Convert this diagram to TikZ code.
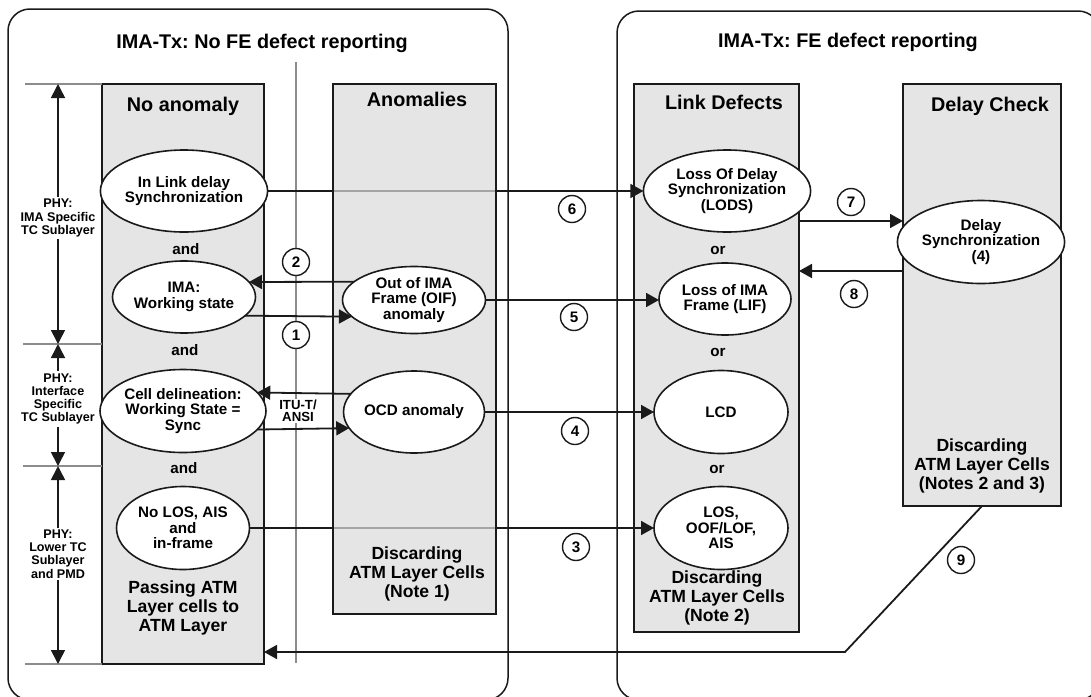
\documentclass[tikz,border=0pt]{standalone}
\usepackage{fontspec}
\setmainfont{Liberation Sans}
\frenchspacing
\usetikzlibrary{shapes.geometric,arrows.meta,calc}
\pgfdeclarelayer{bg}
\pgfdeclarelayer{thru}
\pgfdeclarelayer{anbox}
\pgfsetlayers{bg,thru,anbox,main}
\definecolor{boxgray}{HTML}{E5E5E5}
\definecolor{anfill}{HTML}{DBDBDB}
\definecolor{ink}{HTML}{1A1A1A}
\definecolor{thin}{HTML}{8C8C8C}
\newcommand\ftitle{\fontsize{19.8}{21}\selectfont\bfseries}
\newcommand\fdisc{\fontsize{17.6}{19}\selectfont\bfseries}
\newcommand\fell{\fontsize{15.2}{15.5}\selectfont\bfseries}
\newcommand\fside{\fontsize{12.6}{13.3}\selectfont\bfseries}
\newcommand\fitu{\fontsize{13.2}{12.5}\selectfont\bfseries}
\begin{document}
\begin{tikzpicture}[x=1pt,y=-1pt,
  outerbox/.style={draw=ink, line width=1.5pt, rounded corners=22pt, inner sep=0pt, outer sep=0pt},
  panel/.style={draw=ink, fill=boxgray, line width=1.6pt, inner sep=0pt, outer sep=0pt},
  ell/.style={ellipse, draw=ink, fill=white, line width=1.6pt, inner sep=0pt, outer sep=0pt, align=center, font=\fell},
  circ/.style={circle, draw=ink, fill=white, line width=1.4pt, minimum size=27pt, inner sep=0pt, font=\fell},
  head/.style={font=\ftitle, inner sep=0pt, anchor=base},
  disc/.style={font=\fdisc, align=center, inner sep=0pt},
  conj/.style={font=\fell, inner sep=0pt},
  side/.style={font=\fside, align=center, fill=white, inner sep=2pt},
  arr/.style={draw=ink, line width=1.8pt, -{Triangle[length=13pt,width=14pt]}},
  darr/.style={draw=ink, line width=1.6pt, {Triangle[length=14pt,width=14pt]}-{Triangle[length=14pt,width=14pt]}},
  grayline/.style={draw=thin, line width=1.2pt}
]
\useasboundingbox (0,0) rectangle (1091,696);

% outer frames and panels
\begin{pgfonlayer}{bg}
\node[outerbox, minimum width=500pt, minimum height=691pt] (outerL) at (258,354.5) {};
\node[outerbox, minimum width=483pt, minimum height=689pt] (outerR) at (858.5,355.5) {};
\node[panel, minimum width=162pt, minimum height=580pt] (boxNA) at (183,374) {};
\node[panel, minimum width=165pt, minimum height=548pt] (boxLD) at (716.5,358) {};
\node[panel, minimum width=158pt, minimum height=422pt] (boxDC) at (982,295) {};
\coordinate (vtop) at (296,62);
\coordinate (vbot) at (296,663);
\draw[grayline] (vtop) -- (vbot);
\coordinate (g1a) at (25,84);  \coordinate (g2a) at (23,344);
\coordinate (g3a) at (23,466); \coordinate (g4a) at (25,664);
\draw[grayline] (g1a) -- (g1a -| boxNA.west);
\draw[grayline] (g2a) -- (g2a -| boxNA.west);
\draw[grayline] (g3a) -- (g3a -| boxNA.west);
\draw[grayline] (g4a) -- (g4a -| boxNA.west);
\end{pgfonlayer}

% titles
\node[head] (titleL) at (262,48) {IMA-Tx: No FE defect reporting};
\node[head] (titleR) at (848,47) {IMA-Tx: FE defect reporting};
\node[head] (hNA) at (183,111) {No anomaly};
\node[head] (hAn) at (417,106) {Anomalies};
\node[head] (hLD) at (724,109) {Link Defects};
\node[head] (hDC) at (990,111) {Delay Check};

% left side layer arrows
\coordinate (s1) at (58,84); \coordinate (s2) at (58,344);
\coordinate (s3) at (58,466); \coordinate (s4) at (58,664);
\draw[darr] (s1) -- (s2);
\draw[darr] (s2) -- (s3);
\draw[darr] (s3) -- (s4);
\node[side] (lab1) at (58,218) {PHY:\\IMA Specific\\TC Sublayer};
\node[side] (lab2) at (58,399) {PHY:\\Interface\\Specific\\TC Sublayer};
\node[side] (lab3) at (58,554) {PHY:\\Lower TC\\Sublayer\\and PMD};

% No anomaly column
\node[ell, minimum width=142pt, minimum height=82pt] (e1) at (184,191) {In Link delay\\Synchronization};
\node[conj] (and1) at (186,249) {and};
\node[ell, minimum width=143pt, minimum height=72pt] (e2) at (184,297) {IMA:\\Working state};
\node[conj] (and2) at (185,350) {and};
\node[ell, minimum width=134pt, minimum height=83pt] (e3) at (183,411) {Cell delineation:\\Working State =\\Sync};
\node[conj] (and3) at (184,468) {and};
\node[ell, minimum width=133pt, minimum height=83pt] (e4) at (183,528) {No LOS, AIS\\and\\in-frame};
\node[disc] (passing) at (183,608) {Passing ATM\\Layer cells to\\ATM Layer};

% Anomalies column
\node[ell, minimum width=143pt, minimum height=67pt] (eOIF) at (414,300) {Out of IMA\\Frame (OIF)\\anomaly};
\node[ell, minimum width=134pt, minimum height=82pt] (eOCD) at (414,412) {OCD anomaly};
\node[disc] (disc1) at (417,574) {Discarding\\ATM Layer Cells\\(Note 1)};

% Link defects column
\node[ell, minimum width=133pt, minimum height=82pt] (eLODS) at (727,191) {Loss Of Delay\\Synchronization\\(LODS)};
\node[conj] (or1) at (718,250) {or};
\node[ell, minimum width=132pt, minimum height=72pt] (eLIF) at (725,299) {Loss of IMA\\Frame (LIF)};
\node[conj] (or2) at (718,352) {or};
\node[ell, minimum width=134pt, minimum height=83pt] (eLCD) at (721,412) {LCD};
\node[conj] (or3) at (717,469) {or};
\node[ell, minimum width=134pt, minimum height=83pt] (eLOS) at (721,528) {LOS,\\OOF/LOF,\\AIS};
\node[disc] (disc2) at (717,598) {Discarding\\ATM Layer Cells\\(Note 2)};

% Delay check column
\node[ell, minimum width=134pt, minimum height=83pt] (eDS) at (981,242) {Delay\\Synchronization\\(4)};
\node[disc] (disc3) at (982,466) {Discarding\\ATM Layer Cells\\(Notes 2 and 3)};

% through connectors (under the Anomalies panel)
\begin{pgfonlayer}{thru}
\draw[arr] (e1.east) -- (eLODS.west);
\draw[arr] (e4.east) -- (eLOS.west);
\end{pgfonlayer}
\begin{pgfonlayer}{anbox}
\node[panel, fill=anfill, fill opacity=0.72, minimum width=163pt, minimum height=530pt] (boxAn) at (414.5,349) {};
\end{pgfonlayer}

% connectors
\draw[arr] (eOIF.163.4) -- (e2.13);
\draw[arr] (e2.-17.4) -- (eOIF.-165.7);
\draw[arr] (eOCD.164.4) -- (e3.14.5);
\draw[arr] (e3.-14.5) -- (eOCD.-166.5);
\draw[arr] (eOIF.east) -- (eOIF.east -| eLIF.west);
\draw[arr] (eOCD.east) -- (eLCD.west);
\draw[arr] (boxLD.east |- 0,221) -- (boxDC.west |- 0,221);
\draw[arr] (boxDC.west |- 0,271) -- (boxLD.east |- 0,271);
\coordinate (k9) at (845,652);
\draw[arr] (boxDC.south) -- (k9) -- (k9 -| boxNA.east);

\node[font=\fitu, align=center, fill=white, inner sep=1pt] (itu) at (298,411) {ITU-T/\\ANSI};

% numbered circles
\node[circ] (c1) at (296,335) {1};
\node[circ] (c2) at (296,262) {2};
\node[circ] (c3) at (576,547) {3};
\node[circ] (c4) at (575,431) {4};
\node[circ] (c5) at (574,317) {5};
\node[circ] (c6) at (572,209) {6};
\node[circ] (c7) at (851,202) {7};
\node[circ] (c8) at (854,294) {8};
\node[circ] (c9) at (961,560) {9};
\end{tikzpicture}
\end{document}
